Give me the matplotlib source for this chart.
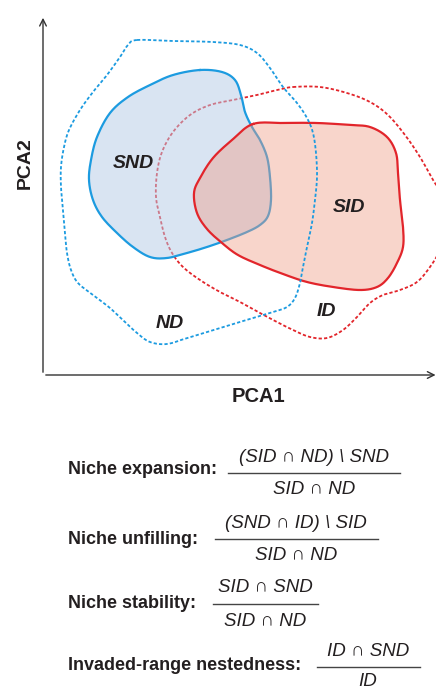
import numpy as np
import matplotlib
import matplotlib.pyplot as plt
from matplotlib.patches import Polygon

matplotlib.use('Agg')
plt.rcParams['font.family'] = ['Liberation Sans', 'DejaVu Sans']

# Niche outlines in the PCA1/PCA2 plane (closed, clockwise)
nd_x = [94, 130, 170, 197, 214, 227, 240, 254, 264, 270, 273, 274, 272, 269, 264, 260, 257, 252,
        244, 230, 210, 187, 164, 144, 124, 107, 94, 82, 67, 50, 35, 28, 24, 22, 20, 18, 18, 21,
        26, 37, 50, 64, 77, 85]
nd_y = [335, 334, 333, 330, 322, 307, 288, 272, 257, 242, 222, 198, 175, 152, 128, 108, 92, 77,
        68, 63, 57, 50, 43, 37, 31, 33, 42, 53, 67, 80, 92, 105, 122, 142, 165, 188, 208, 228,
        245, 265, 283, 300, 318, 330]

snd_x = [157, 179, 192, 198, 202, 209, 217, 224, 227, 228, 225, 217, 204, 184, 164, 144, 124, 107,
         90, 74, 59, 50, 46, 48, 54, 67, 85, 107, 130]
snd_y = [305, 303, 295, 280, 263, 248, 235, 218, 198, 175, 159, 150, 143, 135, 128, 122, 117, 118,
         128, 142, 158, 175, 195, 215, 238, 262, 278, 290, 300]

sid_x = [210, 240, 274, 307, 327, 344, 353, 355, 357, 360, 360, 354, 345, 334, 317, 290, 264, 240,
         217, 195, 179, 164, 154, 151, 157, 170, 189]
sid_y = [251, 252, 252, 250, 248, 238, 222, 202, 175, 148, 128, 112, 97, 88, 85, 88, 93, 101,
         110, 120, 132, 146, 162, 182, 197, 217, 235]

id_x = [250, 277, 304, 327, 345, 362, 377, 390, 402, 405, 397, 387, 374, 357, 340, 327, 314, 300,
        284, 267, 250, 234, 217, 197, 177, 157, 140, 129, 122, 117, 113, 114, 119, 130, 147, 167,
        190, 214, 234]
id_y = [288, 288, 282, 273, 260, 240, 218, 195, 175, 148, 125, 108, 93, 85, 80, 72, 58, 45,
        37, 38, 45, 53, 62, 73, 83, 95, 108, 122, 138, 158, 178, 202, 223, 243, 260, 270,
        275, 280, 285]

region_names = ['SND', 'SID', 'ID', 'ND']
region_x = [90, 306, 283, 127]
region_y = [212, 167, 64, 51]

# Index formulas
row_labels = ['Niche expansion:', 'Niche unfilling:', 'Niche stability:', 'Invaded-range nestedness:']
numerators = ['(SID \u2229 ND) \\ SND', '(SND \u2229 ID) \\ SID', 'SID \u2229 SND', 'ID \u2229 SND']
denominators = ['SID \u2229 ND', 'SID \u2229 ND', 'SID \u2229 ND', 'ID']

# layout (pixels, figure is 436 x 688)
row_y = [470, 540, 603, 665]
bar_y = [473, 539, 604, 667]
bar_cx = [314, 296, 265, 368]
bar_w = [172, 163, 105, 103]
den_off = [17, 17, 17, 14]

txt = '#231f20'
blue_line = '#1c9be0'
red_line = '#e2252b'


def smooth_closed(x, y, n=12):
    # closed Catmull-Rom through the traced points
    p = np.column_stack([x, y]).astype(float)
    out = []
    m = len(p)
    for i in range(m):
        p0, p1, p2, p3 = p[i - 1], p[i], p[(i + 1) % m], p[(i + 2) % m]
        for t in np.linspace(0, 1, n, endpoint=False):
            t2, t3 = t * t, t * t * t
            out.append(0.5 * ((2 * p1) + (-p0 + p2) * t + (2 * p0 - 5 * p1 + 4 * p2 - p3) * t2
                              + (-p0 + 3 * p1 - 3 * p2 + p3) * t3))
    out.append(out[0])
    return np.array(out)


fig = plt.figure(figsize=(4.36, 6.88), dpi=100)

# text layer in pixel coordinates
tax = fig.add_axes([0, 0, 1, 1])
tax.set_xlim(0, 436)
tax.set_ylim(688, 0)
tax.axis('off')

ax = fig.add_axes([43 / 436, 1 - 375 / 688, 393 / 436, 360 / 688])
ax.set_xlim(0, 393)
ax.set_ylim(0, 360)
ax.set_xticks([])
ax.set_yticks([])
for s in ['top', 'right', 'left', 'bottom']:
    ax.spines[s].set_visible(False)
ax.patch.set_alpha(0)

nd = smooth_closed(nd_x, nd_y)
snd = smooth_closed(snd_x, snd_y)
sid = smooth_closed(sid_x, sid_y)
idr = smooth_closed(id_x, id_y)

ax.plot(idr[:, 0], idr[:, 1], color=red_line, lw=1.3, ls=(0, (1.8, 1.2)), zorder=1, clip_on=False)
ax.add_patch(Polygon(snd, closed=True, facecolor='#b5cbe7', alpha=0.5, edgecolor='none', zorder=2))
ax.plot(snd[:, 0], snd[:, 1], color=blue_line, lw=1.6, zorder=3)
ax.add_patch(Polygon(sid, closed=True, facecolor='#f09b85', alpha=0.42, edgecolor='none', zorder=4))
ax.plot(sid[:, 0], sid[:, 1], color=red_line, lw=1.6, zorder=5)
ax.plot(nd[:, 0], nd[:, 1], color=blue_line, lw=1.3, ls=(0, (1.8, 1.2)), zorder=6)

for name, x, y in zip(region_names, region_x, region_y):
    ax.text(x, y, name, fontsize=14, fontweight='bold', fontstyle='italic',
            color=txt, ha='center', va='center', zorder=7)

# axes with arrows
ax.annotate('', xy=(0, 1.0), xytext=(0, 0), xycoords='axes fraction',
            arrowprops=dict(arrowstyle='->', color='#333333', lw=1.0, mutation_scale=12))
ax.annotate('', xy=(1.006, 0), xytext=(0, 0), xycoords='axes fraction',
            arrowprops=dict(arrowstyle='->', color='#333333', lw=1.0, mutation_scale=12),
            annotation_clip=False)

ax.set_xlabel('PCA1', fontsize=14.5, fontweight='bold', color=txt, va='center')
ax.xaxis.set_label_coords((258 - 43) / 393, -(396 - 375) / 360)
ax.set_ylabel('PCA2', fontsize=14, fontweight='bold', color=txt, va='center')
ax.yaxis.set_label_coords((25 - 43) / 393, (375 - 163) / 360)

# formulas
for lab, num, den, ry, by, cx, w, dd in zip(row_labels, numerators, denominators,
                                            row_y, bar_y, bar_cx, bar_w, den_off):
    tax.text(68, ry, lab, fontsize=13, fontweight='bold', color=txt, ha='left', va='center')
    tax.plot([cx - w / 2, cx + w / 2], [by, by], color='#444444', lw=1.0)
    tax.text(cx, by - 16, num, fontsize=13.5, fontstyle='italic', color=txt, ha='center', va='center')
    tax.text(cx, by + dd, den, fontsize=13.5, fontstyle='italic', color=txt, ha='center', va='center')

fig.savefig('out.png', dpi=100)
